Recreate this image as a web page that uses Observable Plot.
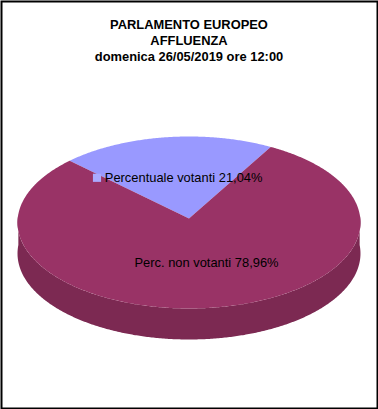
<!DOCTYPE html>
<html><head><meta charset="utf-8">
<style>
html,body{margin:0;padding:0;background:#fff}
#wrap{position:relative;width:378px;height:409px;overflow:hidden}
#wrap svg{position:absolute;left:0;top:0;display:block}
</style>
<script src="https://cdn.jsdelivr.net/npm/d3@7"></script>
<script src="https://cdn.jsdelivr.net/npm/@observablehq/plot@0.6"></script>
</head><body><div id="wrap"></div>
<script>
const categories = ["Percentuale votanti", "Perc. non votanti"];
const shares = [21.04, 78.96];
const labels = ["Percentuale votanti 21,04%", "Perc. non votanti 78,96%"];
const colors = ["#9999ff", "#993366"];
const sideColor = "#7c2952";
const titleLines = ["PARLAMENTO EUROPEO", "AFFLUENZA", "domenica 26/05/2019 ore 12:00"];

const W = 378, H = 409;
const firstAngle = -46, cx = 188.5, cy = 218, A = 85.8, B = 171.3, k = 0.0465, depth = 31;
const total = d3.sum(shares);
const proj = (deg) => {
  const t = deg * Math.PI / 180, s = Math.sin(t), c = Math.cos(t), w = 1 + k * c;
  return {x: cx + B * s / w, y: cy - A * c / w};
};
let a0 = firstAngle;
const sliceRows = [], sideRows = [];
shares.forEach((v, i) => {
  const a1 = a0 + v / total * 360;
  sliceRows.push({x: cx, y: cy, cat: categories[i], fill: colors[i]});
  for (let a = a0; a < a1; a += 0.5) sliceRows.push({...proj(a), cat: categories[i], fill: colors[i]});
  sliceRows.push({...proj(a1), cat: categories[i], fill: colors[i]});
  a0 = a1;
});
for (let a = 87; a <= 273; a += 0.5) sideRows.push(proj(a));
for (let a = 273; a >= 87; a -= 0.5) { const p = proj(a); sideRows.push({x: p.x, y: p.y + depth}); }

const labelRows = [
  {x: 104.3, y: 177.5, text: labels[0]},
  {x: 134, y: 262.3, text: labels[1]}
];
const plot = Plot.plot({
  width: W, height: H, margin: 0,
  x: {domain: [0, W], range: [0, W], axis: null},
  y: {domain: [0, H], range: [0, H], axis: null},
  style: {background: "transparent"},
  marks: [
    Plot.line(sideRows, {x: "x", y: "y", fill: sideColor, stroke: "none"}),
    Plot.line(sliceRows, {x: "x", y: "y", z: "cat", fill: "fill", stroke: "none"}),
    Plot.dot([{x: 96.5, y: 177.3}], {x: "x", y: "y", symbol: "square", r: 4.6, fill: "#aaaaff"}),
    Plot.text(labelRows, {x: "x", y: "y", text: "text", textAnchor: "start", fontSize: 12.9, fontFamily: "Liberation Sans", fill: "#000"}),
    Plot.text(titleLines, {x: () => 188.5, y: (d, i) => 24.5 + i * 16, text: d => d, fontSize: 12.9, fontWeight: "bold", fontFamily: "Liberation Sans", fill: "#000"}),
    Plot.frame({stroke: "#000", strokeWidth: 2, inset: 1})
  ]
});
document.getElementById("wrap").append(plot);
</script></body></html>
